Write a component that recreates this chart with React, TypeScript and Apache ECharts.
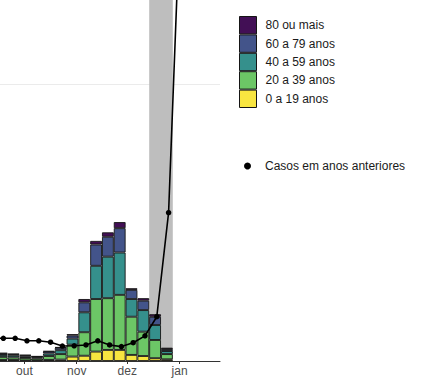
import React, { useEffect, useRef } from "react";
import * as echarts from "echarts";

// ---- data ----
const ageGroups = ["0 a 19 anos", "20 a 39 anos", "40 a 59 anos", "60 a 79 anos", "80 ou mais"];
const ageColors = ["#f8e540", "#6cc666", "#35908c", "#43548a", "#420f55"];

const weekStarts = [
  "2021-09-14", "2021-09-21", "2021-09-28", "2021-10-05", "2021-10-12",
  "2021-10-19", "2021-10-26", "2021-11-02", "2021-11-09", "2021-11-16",
  "2021-11-23", "2021-11-30", "2021-12-07", "2021-12-14", "2021-12-21",
];
const cases0to19 = [4, 4, 2, 2, 4, 5, 16, 19, 34, 40, 40, 22, 18, 10, 6];
const cases20to39 = [11, 9, 9, 7, 14, 20, 43, 85, 190, 187, 199, 138, 88, 66, 19];
const cases40to59 = [7, 7, 5, 4, 9, 14, 22, 72, 120, 150, 153, 64, 78, 54, 11];
const cases60to79 = [5, 4, 4, 3, 7, 9, 11, 36, 77, 72, 88, 33, 34, 30, 7];
const cases80plus = [2, 2, 2, 1, 2, 2, 5, 12, 13, 16, 22, 6, 9, 9, 5];

const lineName = "Casos em anos anteriores";
const lineWeekStarts = [
  "2021-09-08", "2021-09-15", "2021-09-22", "2021-09-29", "2021-10-06", "2021-10-13",
  "2021-10-20", "2021-10-27", "2021-11-03", "2021-11-10", "2021-11-17",
  "2021-11-24", "2021-12-01", "2021-12-08", "2021-12-15", "2021-12-22", "2021-12-29",
];
const previousYearsCases = [82, 82, 82, 73, 73, 68, 54, 55, 58, 73, 58, 52, 66, 91, 160, 536, 1650];

const monthTickDates = ["2021-10-01", "2021-11-01", "2021-12-01", "2022-01-01"];
const monthTickLabels = ["out", "nov", "dez", "jan"];

const shadedStart = "2021-12-14";
const shadedEnd = "2021-12-28";

// ---- helpers ----
const DAY = 86400000;
const ts = (s: string) => Date.parse(s + "T00:00:00Z");
const weekCenter = (s: string) => ts(s) + 3.5 * DAY;
const X_MIN = ts("2021-10-01") - 14.5 * DAY;
const X_MAX = ts("2021-10-01") + 116 * DAY;

const GRID_WIDTH = 220;
const BAR_WIDTH = 11.8;
// ECharts widens a time axis that carries bars by the bar width; pre-shrink so the final range is X_MIN..X_MAX
const shrink = 1 - BAR_WIDTH / GRID_WIDTH;
const X_CENTER = (X_MIN + X_MAX) / 2;
const T_MIN = X_CENTER - ((X_MAX - X_MIN) * shrink) / 2;
const T_MAX = X_CENTER + ((X_MAX - X_MIN) * shrink) / 2;

const FONT = "'Liberation Sans', Arial, Helvetica, sans-serif";

export default function App() {
  const ref = useRef<HTMLDivElement>(null);

  useEffect(() => {
    if (!ref.current) return;
    const chart = echarts.init(ref.current, undefined, { renderer: "svg" });

    const stacks = [cases0to19, cases20to39, cases40to59, cases60to79, cases80plus];
    const tickValues = monthTickDates.map(ts);

    const barSeries = stacks.map((vals, i) => ({
      name: ageGroups[i],
      type: "bar",
      stack: "idade",
      xAxisIndex: 0,
      barWidth: BAR_WIDTH,
      z: 2,
      itemStyle: { color: ageColors[i], borderColor: "#151515", borderWidth: 0.9 },
      data: vals.map((v, k) => [weekCenter(weekStarts[k]), v]),
    }));

    const option: any = {
      animation: false,
      backgroundColor: "#ffffff",
      grid: {
        left: 0,
        width: GRID_WIDTH,
        top: -192.4,
        bottom: 23,
        containLabel: false,
        outerBoundsMode: "none",
      },
      xAxis: [
        {
          type: "time",
          min: T_MIN,
          max: T_MAX,
          show: false,
        },
        {
          type: "value",
          position: "bottom",
          min: X_MIN,
          max: X_MAX,
          axisLine: { show: true, onZero: false, lineStyle: { color: "#333333", width: 1 } },
          axisTick: {
            show: true,
            length: 3,
            customValues: tickValues,
            lineStyle: { color: "#333333" },
          },
          axisLabel: {
            show: true,
            customValues: tickValues,
            margin: 4,
            fontSize: 12,
            fontFamily: FONT,
            color: "#4d4d4d",
            formatter: (v: number) => {
              const idx = tickValues.findIndex((t) => Math.abs(t - v) < DAY / 10);
              return idx >= 0 ? monthTickLabels[idx] : "";
            },
          },
          splitLine: { show: false },
        },
      ],
      yAxis: {
        type: "value",
        min: 0,
        max: 2000,
        interval: 1000,
        axisLine: { show: false },
        axisTick: { show: false },
        axisLabel: { show: false },
        splitLine: { show: true, lineStyle: { color: "#ebebeb", width: 1 } },
      },
      legend: [
        {
          orient: "vertical",
          left: 239,
          top: 16,
          padding: 0,
          itemGap: 0,
          itemWidth: 17,
          itemHeight: 17.4,
          icon: "rect",
          selectedMode: false,
          data: [...ageGroups].reverse(),
          itemStyle: { borderColor: "#151515", borderWidth: 1 },
          textStyle: { fontSize: 12, fontFamily: FONT, color: "#1a1a1a", padding: [0, 0, 0, 4] },
        },
        {
          orient: "vertical",
          left: 244,
          top: 160,
          padding: 0,
          itemWidth: 17,
          itemHeight: 7,
          icon: "circle",
          selectedMode: false,
          data: [lineName],
          itemStyle: { color: "#000000", borderWidth: 0 },
          textStyle: { fontSize: 12, fontFamily: FONT, color: "#1a1a1a", padding: [0, 0, 0, 4] },
        },
      ],
      series: [
        {
          name: "faixa",
          type: "line",
          xAxisIndex: 0,
          z: 1,
          data: [],
          silent: true,
          markArea: {
            silent: true,
            itemStyle: { color: "#bebebe" },
            data: [[{ xAxis: ts(shadedStart) }, { xAxis: ts(shadedEnd) }]],
          },
        },
        ...barSeries,
        {
          name: lineName,
          type: "line",
          xAxisIndex: 0,
          z: 5,
          symbol: "circle",
          symbolSize: 5.5,
          clip: true,
          lineStyle: { color: "#000000", width: 1.6 },
          itemStyle: { color: "#000000" },
          data: previousYearsCases.map((v, k) => [weekCenter(lineWeekStarts[k]), v]),
        },
      ],
    };

    chart.setOption(option);
    return () => chart.dispose();
  }, []);

  return (
    <div
      ref={ref}
      style={{ position: "fixed", left: 0, top: 0, width: 431, height: 384, background: "#fff" }}
    />
  );
}
